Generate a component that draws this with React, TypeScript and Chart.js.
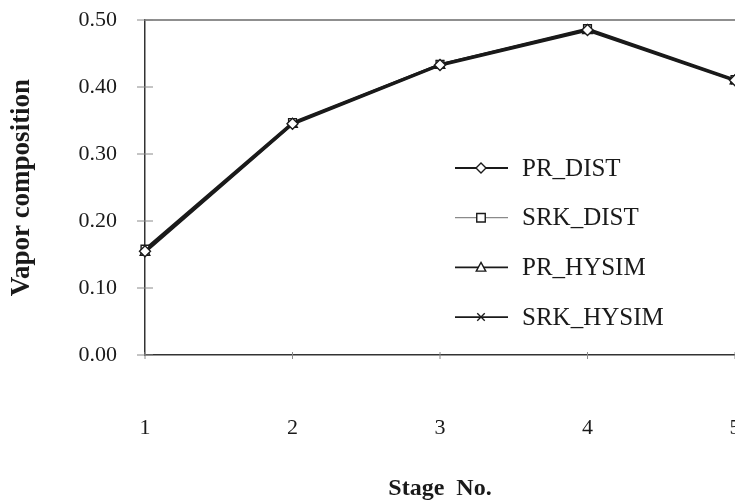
import React, { useEffect, useRef } from "react";
import { Chart, registerables } from "chart.js";

Chart.register(...registerables);

// Stage numbers along the column and the vapor composition at each stage
const stages = [1, 2, 3, 4, 5];
const prDist = [0.155, 0.345, 0.433, 0.485, 0.41];
const srkDist = [0.158, 0.347, 0.434, 0.487, 0.411];
const prHysim = [0.153, 0.344, 0.432, 0.484, 0.409];
const srkHysim = [0.156, 0.346, 0.434, 0.486, 0.41];

const seriesNames = ["PR_DIST", "SRK_DIST", "PR_HYSIM", "SRK_HYSIM"];
const yTickValues = [0, 0.1, 0.2, 0.3, 0.4, 0.5];

const FONT = "'Liberation Serif', 'Times New Roman', serif";
const INK = "#1a1a1a";

type Marker = "rectRot" | "rect" | "triangle" | "crossRot";

function drawMarker(ctx: CanvasRenderingContext2D, style: Marker, x: number, y: number, r: number) {
  ctx.beginPath();
  if (style === "rectRot") {
    ctx.moveTo(x, y - r);
    ctx.lineTo(x + r, y);
    ctx.lineTo(x, y + r);
    ctx.lineTo(x - r, y);
    ctx.closePath();
    ctx.fill();
    ctx.stroke();
  } else if (style === "rect") {
    const s = r * 0.85;
    ctx.rect(x - s, y - s, 2 * s, 2 * s);
    ctx.fill();
    ctx.stroke();
  } else if (style === "triangle") {
    ctx.moveTo(x, y - r);
    ctx.lineTo(x + r * 0.95, y + r * 0.75);
    ctx.lineTo(x - r * 0.95, y + r * 0.75);
    ctx.closePath();
    ctx.fill();
    ctx.stroke();
  } else {
    const s = r * 0.75;
    ctx.moveTo(x - s, y - s);
    ctx.lineTo(x + s, y + s);
    ctx.moveTo(x + s, y - s);
    ctx.lineTo(x - s, y + s);
    ctx.stroke();
  }
}

// Frame line along the top, and tick marks that cross the axis lines
const frameAndTicks = {
  id: "frameAndTicks",
  beforeDatasetsDraw(chart: any) {
    const { ctx, chartArea, scales } = chart;
    ctx.save();
    ctx.strokeStyle = "#6a6a6a";
    ctx.lineWidth = 1.5;
    ctx.beginPath();
    ctx.moveTo(chartArea.left, chartArea.top);
    ctx.lineTo(chartArea.right + 30, chartArea.top);
    ctx.stroke();

    ctx.strokeStyle = "#8a8a8a";
    ctx.lineWidth = 1;
    yTickValues.forEach((v) => {
      const y = scales.y.getPixelForValue(v);
      ctx.beginPath();
      ctx.moveTo(chartArea.left - 8, y);
      ctx.lineTo(chartArea.left + 8, y);
      ctx.stroke();
    });
    stages.forEach((s) => {
      const x = scales.x.getPixelForValue(s);
      ctx.beginPath();
      ctx.moveTo(x, chartArea.bottom - 3);
      ctx.lineTo(x, chartArea.bottom + 4);
      ctx.stroke();
    });
    ctx.restore();
  },
};

// Legend drawn inside the plot area
const insideLegend = {
  id: "insideLegend",
  afterDatasetsDraw(chart: any) {
    const { ctx, chartArea } = chart;
    const x0 = chartArea.left + 310;
    chart.data.datasets.forEach((ds: any, i: number) => {
      const y = chartArea.top + 148 + i * 49.7;
      ctx.save();
      ctx.strokeStyle = ds.legendLine;
      ctx.lineWidth = ds.legendWidth;
      ctx.beginPath();
      ctx.moveTo(x0, y);
      ctx.lineTo(x0 + 53, y);
      ctx.stroke();
      ctx.fillStyle = "#ffffff";
      ctx.strokeStyle = INK;
      ctx.lineWidth = 1.4;
      drawMarker(ctx, ds.pointStyle, x0 + 26, y, 5);
      ctx.fillStyle = INK;
      ctx.font = `25px ${FONT}`;
      ctx.textBaseline = "middle";
      ctx.textAlign = "left";
      ctx.fillText(ds.label, x0 + 67, y + 1);
      ctx.restore();
    });
  },
};

export default function App() {
  const canvasRef = useRef<HTMLCanvasElement | null>(null);

  useEffect(() => {
    document.body.style.margin = "0";
    const canvas = canvasRef.current;
    if (!canvas) return;

    const makeSeries = (label: string, values: number[], style: Marker, line: string, lw: number) => ({
      label,
      data: stages.map((s, i) => ({ x: s, y: values[i] })),
      borderColor: INK,
      borderWidth: 2.2,
      pointStyle: style,
      pointRadius: 5.5,
      pointBackgroundColor: "#ffffff",
      pointBorderColor: INK,
      pointBorderWidth: 1.4,
      tension: 0,
      clip: false as const,
      legendLine: line,
      legendWidth: lw,
    });

    // Invisible tick marks push the labels away from the axis lines
    const hiddenGrid = {
      display: true,
      drawOnChartArea: false,
      drawTicks: true,
      color: "rgba(0,0,0,0)",
    };

    const chart = new Chart(canvas, {
      type: "line",
      data: {
        datasets: [
          makeSeries(seriesNames[0], prDist, "rectRot", INK, 1.8),
          makeSeries(seriesNames[1], srkDist, "rect", "#8a8a8a", 1.2),
          makeSeries(seriesNames[2], prHysim, "triangle", INK, 1.8),
          makeSeries(seriesNames[3], srkHysim, "crossRot", INK, 1.8),
        ] as any,
      },
      options: {
        animation: false,
        responsive: false,
        devicePixelRatio: 1,
        layout: { padding: { top: 20, right: 25, left: 0, bottom: 0 } },
        plugins: {
          legend: { display: false },
          tooltip: { enabled: false },
        },
        scales: {
          x: {
            type: "linear",
            min: 1,
            max: 5,
            afterFit: (s: any) => {
              s.height = 148;
            },
            afterBuildTicks: (s: any) => {
              s.ticks = stages.map((v) => ({ value: v }));
            },
            grid: { ...hiddenGrid, tickLength: 60 },
            border: { display: true, color: "#333333", width: 1.5 },
            ticks: {
              padding: 0,
              color: INK,
              font: { family: FONT, size: 22 },
              maxRotation: 0,
              callback: (v: any) => String(v),
            },
            title: {
              display: true,
              text: "Stage  No.",
              color: INK,
              font: { family: FONT, size: 24, weight: "bold" },
              padding: { top: 0, bottom: 0 },
            },
          },
          y: {
            min: 0,
            max: 0.5,
            afterFit: (s: any) => {
              s.width = 145;
            },
            afterBuildTicks: (s: any) => {
              s.ticks = yTickValues.map((v) => ({ value: v }));
            },
            grid: { ...hiddenGrid, tickLength: 28 },
            border: { display: true, color: "#333333", width: 1.5 },
            ticks: {
              padding: 0,
              color: INK,
              font: { family: FONT, size: 22 },
              callback: (v: any) => Number(v).toFixed(2),
            },
            title: {
              display: true,
              text: "Vapor composition",
              color: INK,
              font: { family: FONT, size: 27, weight: "bold" },
              padding: { top: 6, bottom: 0 },
            },
          },
        },
      },
      plugins: [frameAndTicks, insideLegend],
    });

    return () => chart.destroy();
  }, []);

  return (
    <div
      style={{
        position: "absolute",
        left: 0,
        top: 0,
        width: 735,
        height: 503,
        overflow: "hidden",
        background: "#ffffff",
      }}
    >
      <canvas ref={canvasRef} width={760} height={503} style={{ display: "block" }} />
    </div>
  );
}
